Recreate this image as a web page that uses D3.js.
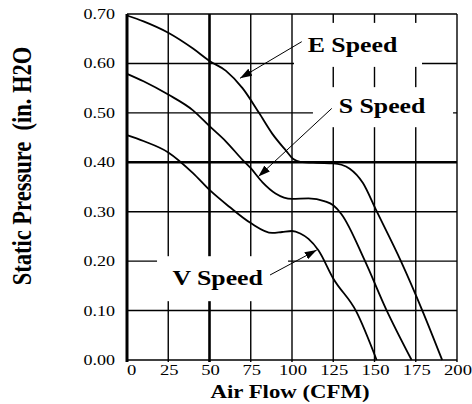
<!DOCTYPE html>
<html>
<head>
<meta charset="utf-8">
<script src="https://cdn.jsdelivr.net/npm/d3@7"></script>
<style>
  html, body { margin: 0; padding: 0; background: #fff; }
  svg { display: block; }
  text { font-family: "Liberation Serif", "Times New Roman", serif; fill: #000; }
</style>
</head>
<body>
<svg id="chart" width="472" height="404"></svg>
<script>
// ---- data ----
const xTicks = [0, 25, 50, 75, 100, 125, 150, 175, 200];
const yTicks = [0.0, 0.1, 0.2, 0.3, 0.4, 0.5, 0.6, 0.7];
const yTickLabels = ["0.00", "0.10", "0.20", "0.30", "0.40", "0.50", "0.60", "0.70"];
const xTitle = "Air Flow (CFM)";
const yTitle = "Static Pressure \u00A0(in. H2O";

const eFlow = [0, 10, 25, 40, 50, 60, 70, 80, 88, 96, 101, 105, 115, 125, 130, 135, 143, 151, 166, 179, 191];
const ePres = [0.697, 0.685, 0.662, 0.630, 0.605, 0.585, 0.550, 0.500, 0.458, 0.425, 0.406, 0.401, 0.399, 0.398, 0.395, 0.387, 0.358, 0.303, 0.200, 0.100, 0.0];

const sFlow = [0, 10, 25, 40, 50, 60, 70, 75, 82, 90, 100, 110, 120, 125, 130, 144, 157, 172.5];
const sPres = [0.579, 0.564, 0.537, 0.505, 0.473, 0.442, 0.405, 0.388, 0.360, 0.337, 0.326, 0.327, 0.321, 0.313, 0.295, 0.202, 0.103, 0.0];

const vFlow = [0, 10, 25, 40, 50, 62, 75, 88, 94, 100, 105, 110, 116, 125, 139, 151.3];
const vPres = [0.455, 0.443, 0.420, 0.378, 0.344, 0.310, 0.277, 0.257, 0.259, 0.261, 0.256, 0.245, 0.222, 0.165, 0.098, 0.0];

const seriesNames = ["E Speed", "S Speed", "V Speed"];

// ---- layout ----
const svg = d3.select("#chart");
const x = d3.scaleLinear().domain([0, 200]).range([127, 457]);
const y = d3.scaleLinear().domain([0, 0.7]).range([360, 14]);
const SX = 1.2; // horizontal stretch of the lettering in the reference

// grid
const grid = svg.append("g");
grid.selectAll("line.v").data(xTicks).join("line")
  .attr("x1", d => x(d)).attr("x2", d => x(d))
  .attr("y1", y(0.7)).attr("y2", y(0) + 2)
  .attr("stroke", "#000")
  .attr("stroke-width", d => d === 50 ? 2.6 : (d === 0 ? 3 : 1.4));
grid.selectAll("line.h").data(yTicks).join("line")
  .attr("x1", x(0)).attr("x2", x(200))
  .attr("y1", d => y(d)).attr("y2", d => y(d))
  .attr("stroke", "#000")
  .attr("stroke-width", d => Math.abs(d - 0.4) < 1e-9 ? 2.6 : 1.4);

// annotation boxes / labels / arrows (in data units)
const notes = [
  { name: seriesNames[0], box: [101.2, 178.8, 0.682, 0.593], tx: 109.5, ty: 0.624, from: [105.9, 0.644], to: [68.5, 0.570] },
  { name: seriesNames[1], box: [112.7, 197.6, 0.552, 0.471], tx: 128.3, ty: 0.500, from: [124.1, 0.509], to: [79.6, 0.371] },
  { name: seriesNames[2], box: [18.2, 97.6, 0.210, 0.119], tx: 27.5, ty: 0.152, from: [86.7, 0.172], to: [115, 0.2225] }
];

svg.selectAll("rect.note").data(notes).join("rect")
  .attr("x", d => x(d.box[0])).attr("width", d => x(d.box[1]) - x(d.box[0]))
  .attr("y", d => y(d.box[2])).attr("height", d => y(d.box[3]) - y(d.box[2]))
  .attr("fill", "#fff");

// curves
const line = d3.line().x(d => x(d[0])).y(d => y(d[1])).curve(d3.curveMonotoneX);
const curves = [d3.zip(eFlow, ePres), d3.zip(sFlow, sPres), d3.zip(vFlow, vPres)];
svg.selectAll("path.curve").data(curves).join("path")
  .attr("d", line).attr("fill", "none").attr("stroke", "#000").attr("stroke-width", 1.8);

// arrows
const defs = svg.append("defs");
defs.append("marker").attr("id", "ah")
  .attr("viewBox", "0 0 12 8").attr("refX", 12).attr("refY", 4)
  .attr("markerWidth", 12).attr("markerHeight", 8)
  .attr("markerUnits", "userSpaceOnUse").attr("orient", "auto")
  .append("path").attr("d", "M0,0 L12,4 L0,8 Z").attr("fill", "#000");

svg.selectAll("line.arrow").data(notes).join("line")
  .attr("x1", d => x(d.from[0])).attr("y1", d => y(d.from[1]))
  .attr("x2", d => x(d.to[0])).attr("y2", d => y(d.to[1]))
  .attr("stroke", "#000").attr("stroke-width", 1)
  .attr("marker-end", "url(#ah)");

svg.selectAll("text.note").data(notes).join("text")
  .attr("transform", d => `translate(${x(d.tx)},${y(d.ty)}) scale(${SX},1)`)
  .attr("font-size", 21.5).attr("font-weight", "bold")
  .text(d => d.name);

// tick labels
svg.selectAll("text.yt").data(yTicks).join("text")
  .attr("transform", d => `translate(115,${y(d) + 5}) scale(${SX},1)`)
  .attr("text-anchor", "end").attr("font-size", 15)
  .text((d, i) => yTickLabels[i]);

svg.selectAll("text.xt").data(xTicks).join("text")
  .attr("transform", d => `translate(${d === 0 ? x(d) : x(d) + 1},375) scale(${SX},1)`)
  .attr("text-anchor", d => d === 0 ? "start" : "middle").attr("font-size", 15.5)
  .text(d => d);

// axis titles
svg.append("text")
  .attr("transform", `translate(290,398) scale(${SX},1)`)
  .attr("text-anchor", "middle").attr("font-size", 19).attr("font-weight", "bold")
  .text(xTitle);

svg.append("text")
  .attr("transform", `translate(31,166) scale(${SX},1) rotate(-90)`)
  .attr("text-anchor", "middle").attr("font-size", 22.5).attr("font-weight", "bold")
  .text(yTitle);
</script>
</body>
</html>
